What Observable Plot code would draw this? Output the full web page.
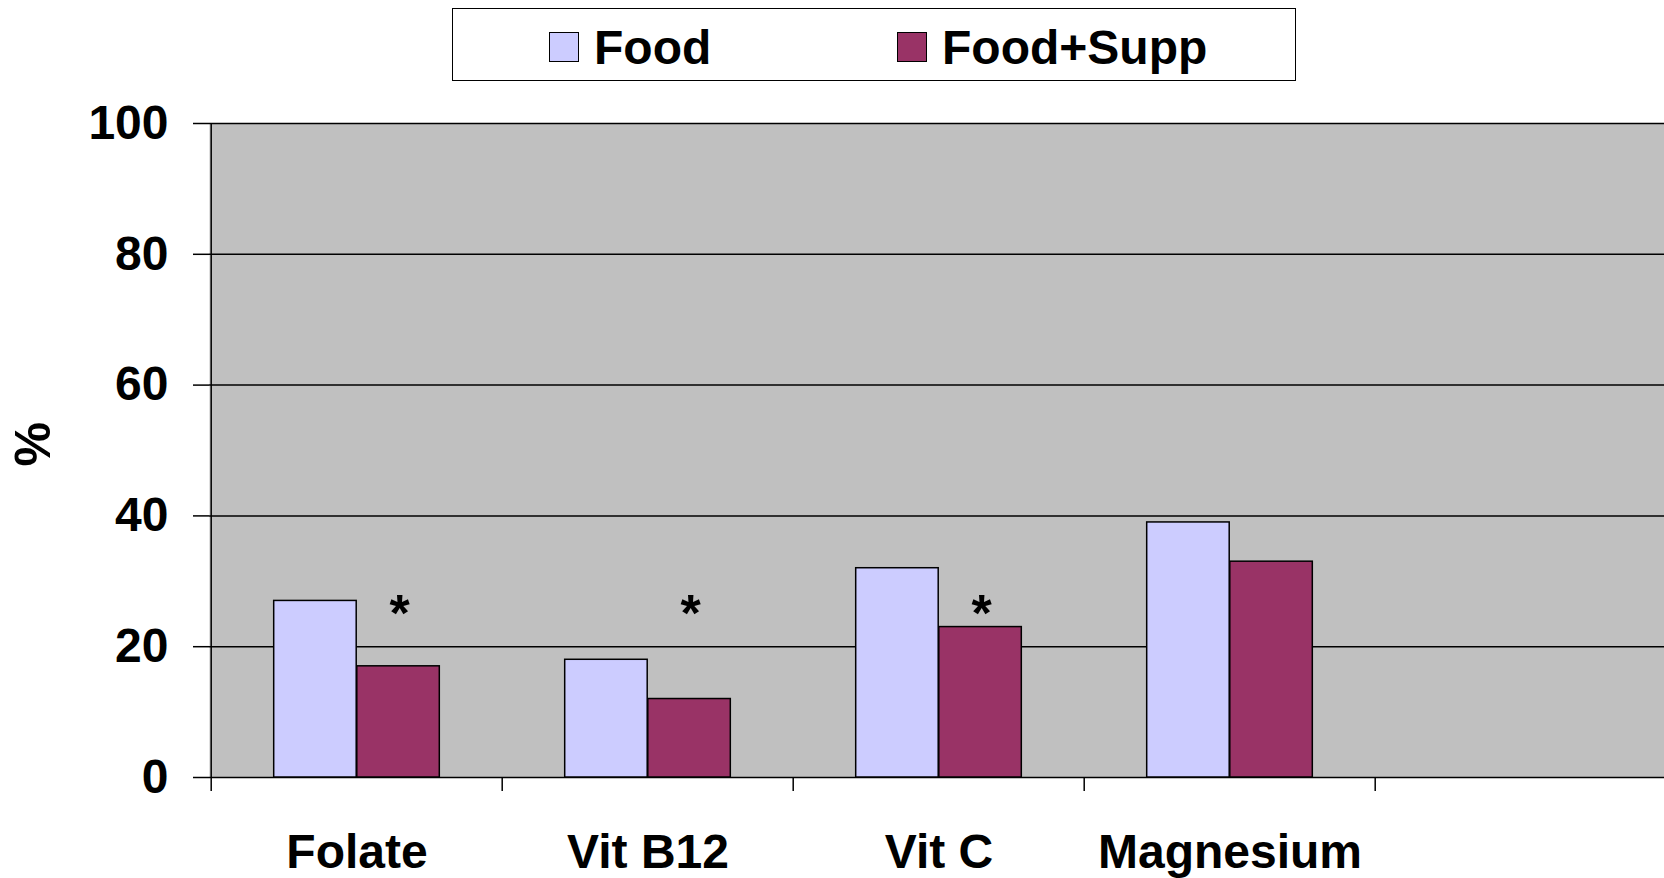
<!DOCTYPE html>
<html><head><meta charset="utf-8">
<script src="https://cdn.jsdelivr.net/npm/d3@7"></script>
<script src="https://cdn.jsdelivr.net/npm/@observablehq/plot@0.6"></script>
<style>
html,body{margin:0;padding:0;background:#fff;}
body{width:1664px;height:878px;overflow:hidden;font-family:"Liberation Sans",Arial,sans-serif;font-weight:bold;}
#legend{position:relative;height:88px;}
#legend .box{position:absolute;left:452px;top:8px;width:842px;height:71px;border:1.5px solid #000;}
#legend .sw{position:absolute;top:32px;width:28px;height:28px;border:1.5px solid #000;}
#legend .lab{position:absolute;top:24px;font-size:48px;line-height:48px;white-space:nowrap;}
#chart svg{display:block;}
</style></head><body>
<div id="legend"></div>
<div id="chart"></div>
<script>
// ---- data ----
const categories = ["Folate", "Vit B12", "Vit C", "Magnesium", ""];
const series = ["Food", "Food+Supp"];
const foodValues = [27, 18, 32, 39];
const suppValues = [17, 12, 23, 33];
const significant = ["Folate", "Vit B12", "Vit C"];
const sigLevel = 25;
const yTicks = [0, 20, 40, 60, 80, 100];
const yLabel = "%";
const colors = ["#ccccff", "#993366"];

// ---- layout ----
const W = 1664, H = 790;
const mL = 209, mR = -3, mT = 35, mB = 101;
const bw = (W - mL - mR) / categories.length;
const barFrac = 0.285;

// ---- legend (HTML, above the svg) ----
const legend = document.getElementById("legend");
legend.innerHTML = `<div class="box"></div>` +
  [[549, 594], [897, 942]].map(([sx, tx], i) =>
    `<div class="sw" style="left:${sx}px;background:${colors[i]}"></div><div class="lab" style="left:${tx}px">${series[i]}</div>`
  ).join("");

// ---- table ----
const rows = [];
categories.forEach((c, i) => {
  if (foodValues[i] != null) rows.push({category: c, series: series[0], value: foodValues[i]});
  if (suppValues[i] != null) rows.push({category: c, series: series[1], value: suppValues[i]});
});

const chart = Plot.plot({
  width: W, height: H,
  marginLeft: mL, marginRight: mR, marginTop: mT, marginBottom: mB,
  style: {fontFamily: "'Liberation Sans', Arial, sans-serif", fontWeight: "bold", fontSize: "48px", color: "#000", background: "transparent", overflow: "visible"},
  x: {domain: categories, padding: 0},
  y: {domain: [0, 100]},
  color: {domain: series, range: colors},
  marks: [
    Plot.frame({fill: "#c0c0c0", stroke: null}),
    Plot.ruleY(yTicks, {stroke: "#000", strokeWidth: 1.5}),
    Plot.barY(rows.filter(d => d.series === series[0]), {
      x: "category", y: "value", fill: "series", stroke: "#000", strokeWidth: 1.5,
      insetLeft: bw * (0.5 - barFrac), insetRight: bw * 0.5
    }),
    Plot.barY(rows.filter(d => d.series === series[1]), {
      x: "category", y: "value", fill: "series", stroke: "#000", strokeWidth: 1.5,
      insetLeft: bw * 0.5, insetRight: bw * (0.5 - barFrac)
    }),
    Plot.text(significant, {x: d => d, y: () => sigLevel, text: () => "*", dx: bw * barFrac / 2 + 1, fontSize: 52, lineAnchor: "middle"}),
    // y axis line
    Plot.ruleX([categories[0]], {x: d => d, dx: -bw / 2, y1: 0, y2: 100, stroke: "#000", strokeWidth: 1.5}),
    // category boundary ticks
    Plot.ruleX(categories, {x: d => d, dx: -bw / 2, y1: 0, y2: 0, insetBottom: -14, stroke: "#000", strokeWidth: 1.5}),
    Plot.axisY({ticks: yTicks, tickSize: 16, tickPadding: 25, tickFormat: d => String(d), label: null, strokeWidth: 1.5, stroke: "#000"}),
    Plot.axisX({tickSize: 0, tickPadding: 56, tickFormat: d => d, label: null}),
    Plot.text([yLabel], {frameAnchor: "left", dx: -176, dy: 16, rotate: -90, text: d => d, fontSize: 50})
  ]
});
document.getElementById("chart").appendChild(chart);
</script>
</body></html>
